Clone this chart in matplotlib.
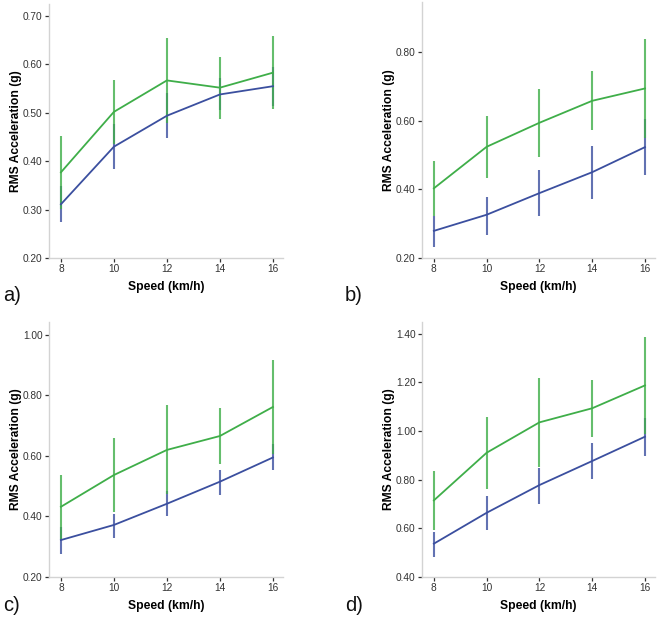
from matplotlib import pyplot as plt
import numpy as np

speeds = [8, 10, 12, 14, 16]

# panel a
a_green = [0.377, 0.502, 0.567, 0.552, 0.583]
a_green_lo = [0.302, 0.436, 0.479, 0.487, 0.507]
a_green_hi = [0.452, 0.568, 0.655, 0.616, 0.659]
a_blue = [0.311, 0.430, 0.494, 0.538, 0.555]
a_blue_lo = [0.274, 0.384, 0.448, 0.505, 0.515]
a_blue_hi = [0.348, 0.476, 0.540, 0.571, 0.595]

# panel b
b_green = [0.403, 0.524, 0.594, 0.658, 0.694]
b_green_lo = [0.323, 0.432, 0.495, 0.573, 0.549]
b_green_hi = [0.483, 0.613, 0.691, 0.744, 0.839]
b_blue = [0.279, 0.326, 0.389, 0.450, 0.523]
b_blue_lo = [0.232, 0.268, 0.321, 0.371, 0.442]
b_blue_hi = [0.321, 0.379, 0.455, 0.526, 0.606]

# panel c
c_green = [0.432, 0.537, 0.620, 0.666, 0.762]
c_green_lo = [0.327, 0.414, 0.473, 0.572, 0.607]
c_green_hi = [0.537, 0.660, 0.767, 0.757, 0.917]
c_blue = [0.322, 0.372, 0.442, 0.515, 0.595]
c_blue_lo = [0.276, 0.330, 0.401, 0.472, 0.553]
c_blue_hi = [0.364, 0.409, 0.484, 0.553, 0.638]

# panel d
d_green = [0.715, 0.911, 1.036, 1.094, 1.188]
d_green_lo = [0.593, 0.760, 0.852, 0.974, 0.990]
d_green_hi = [0.837, 1.059, 1.220, 1.210, 1.386]
d_blue = [0.537, 0.664, 0.778, 0.877, 0.977]
d_blue_lo = [0.482, 0.592, 0.702, 0.801, 0.899]
d_blue_hi = [0.585, 0.732, 0.849, 0.952, 1.052]

panels = [
    ('a)', a_green, a_green_lo, a_green_hi, a_blue, a_blue_lo, a_blue_hi,
     (0.20, 0.725), [0.20, 0.30, 0.40, 0.50, 0.60, 0.70]),
    ('b)', b_green, b_green_lo, b_green_hi, b_blue, b_blue_lo, b_blue_hi,
     (0.20, 0.946), [0.20, 0.40, 0.60, 0.80]),
    ('c)', c_green, c_green_lo, c_green_hi, c_blue, c_blue_lo, c_blue_hi,
     (0.20, 1.043), [0.20, 0.40, 0.60, 0.80, 1.00]),
    ('d)', d_green, d_green_lo, d_green_hi, d_blue, d_blue_lo, d_blue_hi,
     (0.40, 1.449), [0.40, 0.60, 0.80, 1.00, 1.20, 1.40]),
]

positions = [
    [0.0741, 0.5839, 0.354, 0.4097],
    [0.6384, 0.5839, 0.3525, 0.4129],
    [0.0741, 0.0694, 0.354, 0.4113],
    [0.6384, 0.0694, 0.3525, 0.4113],
]
letter_pos = [(0.004, 0.515), (0.522, 0.515), (0.004, 0.014), (0.522, 0.014)]

plt.rcParams['font.family'] = ['Liberation Sans', 'DejaVu Sans']
green = '#3fae49'
blue = '#3b4f9f'
spine_col = '#d3d3d3'

figure = plt.figure(figsize=(6.61, 6.20), dpi=100)
for index, panel in enumerate(panels):
    letter, g, g_lo, g_hi, b, b_lo, b_hi, ylim, yticks = panel
    axes = figure.add_axes(positions[index])
    x = np.array(speeds)
    axes.vlines(x, b_lo, b_hi, color=blue, lw=1.5, alpha=0.8)
    axes.vlines(x, g_lo, g_hi, color=green, lw=1.5, alpha=0.8)
    axes.plot(x, b, color=blue, lw=1.3)
    axes.plot(x, g, color=green, lw=1.3)
    axes.set_xlim(7.55, 16.38)
    axes.set_ylim(*ylim)
    axes.set_xticks(speeds)
    axes.set_yticks(yticks)
    axes.set_yticklabels([f'{v:.2f}' for v in yticks])
    for side in ['top', 'right']:
        axes.spines[side].set_visible(False)
    for side in ['left', 'bottom']:
        axes.spines[side].set_color(spine_col)
        axes.spines[side].set_linewidth(1.0)
    axes.tick_params(axis='both', labelsize=7.3, colors='#333333', length=3,
                     width=0.9, pad=1.5)
    axes.set_ylabel('RMS Acceleration (g)', fontsize=8.7, fontweight='bold',
                    labelpad=0.5)
    axes.set_xlabel('Speed (km/h)', fontsize=8.7, fontweight='bold', labelpad=5)
    figure.text(letter_pos[index][0], letter_pos[index][1], letter,
                fontsize=14.5, color='#111111')

figure.savefig('out.png', dpi=100)
